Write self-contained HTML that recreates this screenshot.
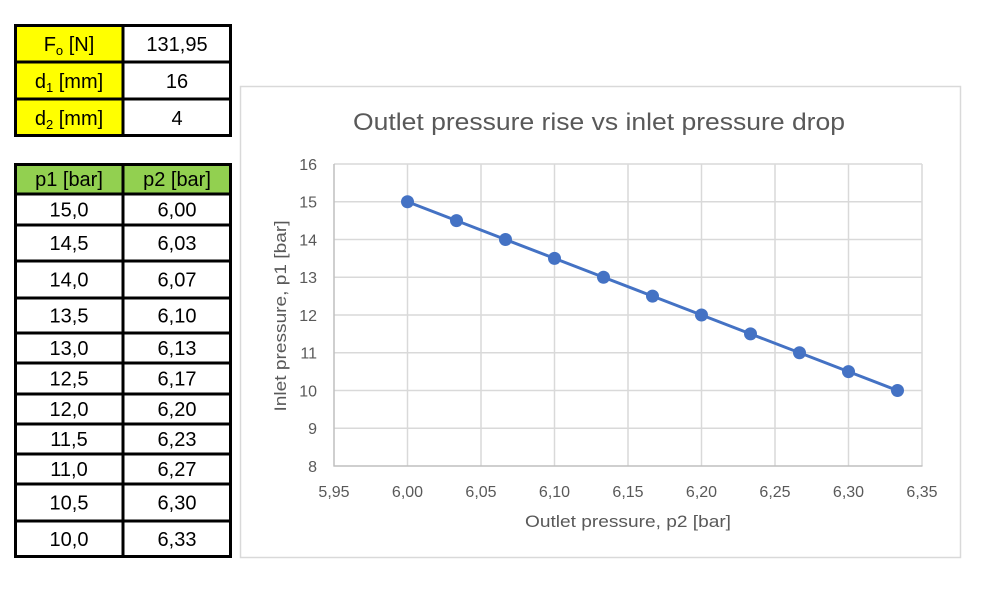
<!DOCTYPE html>
<html><head><meta charset="utf-8"><style>
html,body{margin:0;padding:0;background:#fff;}
svg{display:block;}
text{font-family:"Liberation Sans",Arial,sans-serif;}
</style></head><body>
<svg width="987" height="612" viewBox="0 0 987 612" xmlns="http://www.w3.org/2000/svg">
<rect x="0" y="0" width="987" height="612" fill="#fff"/>

<!-- Top table -->
<rect x="15" y="25" width="108" height="111" fill="#FFFF00"/>
<g fill="#000" font-size="20" text-anchor="middle">
  <text x="69" y="51">F<tspan font-size="13" dy="4">o</tspan><tspan dy="-4"> [N]</tspan></text>
  <text x="69" y="88">d<tspan font-size="13" dy="4">1</tspan><tspan dy="-4"> [mm]</tspan></text>
  <text x="69" y="125">d<tspan font-size="13" dy="4">2</tspan><tspan dy="-4"> [mm]</tspan></text>
  <text x="177" y="51">131,95</text>
  <text x="177" y="88">16</text>
  <text x="177" y="125">4</text>
</g>
<g stroke="#000" stroke-width="3" fill="none">
  <rect x="15.5" y="25.5" width="215" height="110"/>
  <line x1="123" y1="25" x2="123" y2="136"/>
  <line x1="15" y1="62" x2="231" y2="62"/>
  <line x1="15" y1="99" x2="231" y2="99"/>
</g>

<!-- Lower table -->
<rect x="15" y="164" width="216" height="30" fill="#92D050"/>
<g fill="#000" font-size="20" text-anchor="middle">
  <text x="69" y="186">p1 [bar]</text>
  <text x="177" y="186">p2 [bar]</text>
  <text x="69" y="216.5">15,0</text><text x="177" y="216.5">6,00</text>
  <text x="69" y="250">14,5</text><text x="177" y="250">6,03</text>
  <text x="69" y="286.5">14,0</text><text x="177" y="286.5">6,07</text>
  <text x="69" y="322.5">13,5</text><text x="177" y="322.5">6,10</text>
  <text x="69" y="355">13,0</text><text x="177" y="355">6,13</text>
  <text x="69" y="385.5">12,5</text><text x="177" y="385.5">6,17</text>
  <text x="69" y="416">12,0</text><text x="177" y="416">6,20</text>
  <text x="69" y="446">11,5</text><text x="177" y="446">6,23</text>
  <text x="69" y="476">11,0</text><text x="177" y="476">6,27</text>
  <text x="69" y="509.5">10,5</text><text x="177" y="509.5">6,30</text>
  <text x="69" y="546">10,0</text><text x="177" y="546">6,33</text>
</g>
<g stroke="#000" stroke-width="3" fill="none">
  <rect x="15.5" y="164.5" width="215" height="392"/>
  <line x1="123" y1="164" x2="123" y2="557"/>
  <line x1="15" y1="194" x2="231" y2="194"/>
  <line x1="15" y1="225" x2="231" y2="225"/>
  <line x1="15" y1="261" x2="231" y2="261"/>
  <line x1="15" y1="298" x2="231" y2="298"/>
  <line x1="15" y1="333" x2="231" y2="333"/>
  <line x1="15" y1="363" x2="231" y2="363"/>
  <line x1="15" y1="394" x2="231" y2="394"/>
  <line x1="15" y1="424" x2="231" y2="424"/>
  <line x1="15" y1="454" x2="231" y2="454"/>
  <line x1="15" y1="484" x2="231" y2="484"/>
  <line x1="15" y1="521" x2="231" y2="521"/>
</g>

<!-- Chart frame -->
<rect x="240.5" y="86.5" width="720" height="471" fill="#fff" stroke="#d9d9d9" stroke-width="1.5"/>

<!-- Title -->
<text x="599" y="130" font-size="24" fill="#595959" text-anchor="middle" textLength="492" lengthAdjust="spacingAndGlyphs">Outlet pressure rise vs inlet pressure drop</text>

<!-- Gridlines -->
<g stroke="#d9d9d9" stroke-width="1.5">
  <line x1="334" y1="164" x2="922" y2="164"/>
  <line x1="334" y1="201.75" x2="922" y2="201.75"/>
  <line x1="334" y1="239.5" x2="922" y2="239.5"/>
  <line x1="334" y1="277.25" x2="922" y2="277.25"/>
  <line x1="334" y1="315" x2="922" y2="315"/>
  <line x1="334" y1="352.75" x2="922" y2="352.75"/>
  <line x1="334" y1="390.5" x2="922" y2="390.5"/>
  <line x1="334" y1="428.25" x2="922" y2="428.25"/>
  <line x1="407.5" y1="164" x2="407.5" y2="466"/>
  <line x1="481" y1="164" x2="481" y2="466"/>
  <line x1="554.5" y1="164" x2="554.5" y2="466"/>
  <line x1="628" y1="164" x2="628" y2="466"/>
  <line x1="701.5" y1="164" x2="701.5" y2="466"/>
  <line x1="775" y1="164" x2="775" y2="466"/>
  <line x1="848.5" y1="164" x2="848.5" y2="466"/>
  <line x1="922" y1="164" x2="922" y2="466"/>
</g>
<!-- Axes -->
<g stroke="#bfbfbf" stroke-width="1.5">
  <line x1="334" y1="164" x2="334" y2="466.5"/>
  <line x1="333.5" y1="466" x2="922.5" y2="466"/>
</g>

<!-- Y tick labels -->
<g font-size="16" fill="#595959" text-anchor="end">
  <text x="317" y="170">16</text>
  <text x="317" y="207.5">15</text>
  <text x="317" y="245.5">14</text>
  <text x="317" y="283">13</text>
  <text x="317" y="321">12</text>
  <text x="317" y="358.5">11</text>
  <text x="317" y="396.5">10</text>
  <text x="317" y="434">9</text>
  <text x="317" y="472">8</text>
</g>
<!-- X tick labels -->
<g font-size="16" fill="#595959" text-anchor="middle">
  <text x="334" y="497">5,95</text>
  <text x="407.5" y="497">6,00</text>
  <text x="481" y="497">6,05</text>
  <text x="554.5" y="497">6,10</text>
  <text x="628" y="497">6,15</text>
  <text x="701.5" y="497">6,20</text>
  <text x="775" y="497">6,25</text>
  <text x="848.5" y="497">6,30</text>
  <text x="922" y="497">6,35</text>
</g>

<!-- Axis titles -->
<text x="628" y="527" font-size="17" fill="#595959" text-anchor="middle" textLength="206" lengthAdjust="spacingAndGlyphs">Outlet pressure, p2 [bar]</text>
<text transform="translate(286,316) rotate(-90)" x="0" y="0" font-size="17" fill="#595959" text-anchor="middle" textLength="191" lengthAdjust="spacingAndGlyphs">Inlet pressure, p1 [bar]</text>

<!-- Series -->
<polyline fill="none" stroke="#4472C4" stroke-width="3" stroke-linejoin="round"
  points="407.5,201.75 456.5,220.6 505.5,239.5 554.5,258.4 603.5,277.25 652.5,296.1 701.5,315 750.5,333.9 799.5,352.75 848.5,371.6 897.5,390.5"/>
<g fill="#4472C4">
  <circle cx="407.5" cy="201.75" r="6.5"/>
  <circle cx="456.5" cy="220.6" r="6.5"/>
  <circle cx="505.5" cy="239.5" r="6.5"/>
  <circle cx="554.5" cy="258.4" r="6.5"/>
  <circle cx="603.5" cy="277.25" r="6.5"/>
  <circle cx="652.5" cy="296.1" r="6.5"/>
  <circle cx="701.5" cy="315" r="6.5"/>
  <circle cx="750.5" cy="333.9" r="6.5"/>
  <circle cx="799.5" cy="352.75" r="6.5"/>
  <circle cx="848.5" cy="371.6" r="6.5"/>
  <circle cx="897.5" cy="390.5" r="6.5"/>
</g>
</svg>
</body></html>
